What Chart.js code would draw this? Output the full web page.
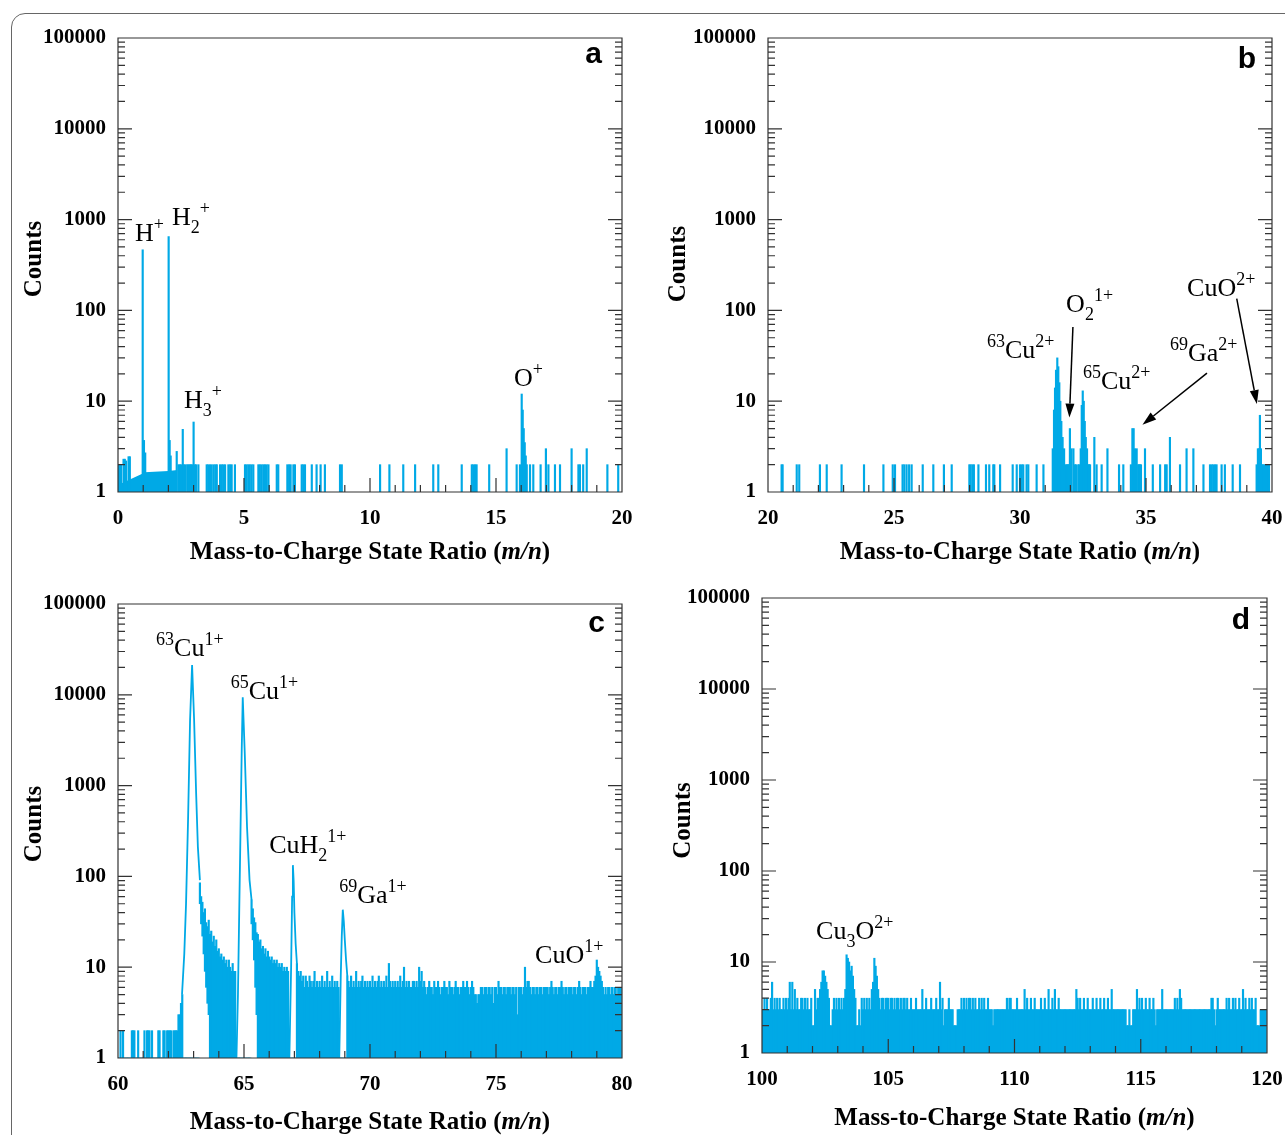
<!DOCTYPE html>
<html>
<head>
<meta charset="utf-8">
<script src="https://cdn.jsdelivr.net/npm/chart.js@4.4.1/dist/chart.umd.min.js"></script>
<style>
  html, body { margin: 0; padding: 0; background: #fff; overflow: hidden; }
  body { width: 1285px; height: 1135px; position: relative; }
  .frame { position: absolute; left: 11px; top: 13px; width: 1300px; height: 1150px;
           border: 1.5px solid #666; border-radius: 14px; }
  canvas { position: absolute; }
</style>
</head>
<body>
<div class="frame"></div>
<canvas id="chartA" width="642" height="570" style="left:0;top:0"></canvas>
<canvas id="chartB" width="643" height="570" style="left:642px;top:0"></canvas>
<canvas id="chartC" width="642" height="565" style="left:0;top:570px"></canvas>
<canvas id="chartD" width="643" height="565" style="left:642px;top:570px"></canvas>
<script>
const BLUE = "#00a9e6";
const SERIF = '"Liberation Serif", "Times New Roman", serif';
const decades = [1, 10, 100, 1000, 10000, 100000];

// ---- panel a: m/n 0-20 ----
const aRampMz = [0.02, 0.15, 0.94, 1.05, 2.0, 2.36];
const aRampCounts = [1.2, 1.25, 1.58, 1.65, 1.7, 1.75];
// single-count-2 events
const aNoiseMz = [0.03, 0.08, 0.12, 2.40, 2.45, 2.50, 2.62, 2.68, 2.75, 2.80, 2.85, 2.90, 2.95,
  3.05, 3.10, 3.19, 3.52, 3.58, 3.65, 3.72, 3.80, 3.87, 3.92, 4.05, 4.12, 4.18, 4.25, 4.38,
  4.45, 4.51, 4.64, 5.04, 5.10, 5.17, 5.23, 5.30, 5.37, 5.57, 5.63, 5.70, 5.77, 5.83, 5.90,
  5.97, 6.30, 6.36, 6.72, 6.79, 6.85, 6.96, 7.02, 7.29, 7.35, 7.42, 7.69, 7.88, 8.04, 8.21,
  8.81, 8.88, 10.40, 10.77, 11.32, 11.79, 12.51, 12.71, 13.64, 14.04, 14.10, 14.17, 14.23,
  14.73, 15.82, 15.95, 16.22, 16.35, 16.48, 16.77, 17.08, 17.34, 17.54, 18.27, 18.33, 18.46,
  19.42, 19.85];
const aNoise3Mz = [15.42, 16.98, 18.00, 18.60];
const aPeakMz = [0.22, 0.27, 0.32, 0.42, 0.47, 0.98, 1.03, 1.08, 2.01, 2.05, 2.09, 2.33, 2.57,
  3.00, 16.02, 16.06, 16.10, 16.14, 16.18];
const aPeakCounts = [2.3, 2.3, 2.2, 2.45, 2.45, 465, 3.7, 2.7, 650, 3.7, 2.5, 2.8, 4.9,
  5.9, 12, 8, 5, 3.5, 2.5];

// ---- panel b: m/n 20-40 ----
const bNoiseMz = [20.54, 20.58, 21.14, 21.24, 22.06, 22.33, 22.92, 23.81, 24.58, 24.95, 25.04,
  25.34, 25.41, 25.50, 25.60, 25.70, 26.14, 26.56, 26.98, 27.29, 27.99, 28.04, 28.11, 28.17,
  28.35, 28.65, 28.78, 28.94, 28.98, 29.21, 29.71, 29.87, 30.00, 30.07, 30.13, 30.26, 30.33,
  30.66, 30.93, 31.80, 31.85, 31.88, 31.92, 31.95, 32.18, 32.22, 32.31, 32.35, 32.71, 32.74,
  32.78, 33.04, 33.24, 33.93, 34.10, 34.40, 34.69, 34.72, 34.76, 34.80, 35.27, 35.56, 35.76,
  35.82, 36.35, 37.28, 37.54, 37.61, 37.67, 37.74, 37.80, 38.00, 38.13, 38.44, 38.73, 39.39,
  39.60, 39.65, 39.70, 39.75, 39.80, 39.84, 39.88];
const bPeakMz = [31.30, 31.35, 31.39, 31.43, 31.48, 31.52, 31.56, 31.60, 31.64, 31.69, 31.75,
  31.98, 32.04, 32.12, 32.41, 32.45, 32.49, 32.53, 32.57, 32.61, 32.66, 32.95, 33.47, 34.46,
  34.51, 34.56, 34.63, 34.96, 35.95, 36.61, 36.88, 39.44, 39.48, 39.52, 39.56];
const bPeakCounts = [3, 8, 14, 22, 30, 24, 16, 10, 6, 4, 3,
  5, 3, 3, 3, 9, 13, 10, 6, 4, 3, 4, 3, 5,
  5, 3, 3, 3, 4, 3, 3, 3, 3, 7, 3];

// ---- panel c: m/n 60-80, counts per 0.05 bin ----
const cStart = 60, cStep = 0.05;
const cCounts = [
  1,1,2,1,2,1,1,1,1,1,1,2,2,2,1,1,2,1,1,1,
  1,2,1,2,2,2,1,2,1,1,1,1,2,2,1,1,2,2,1,2,
  2,2,2,1,2,2,2,2,3,3,4,5,1,1,1,1,1,1,1,1,
  1,1,1,1,1,85,60,52,40,44,31,28,33,23,25,19,22,17,20,15,
  16,13,14,12,13,11,12,10,12,10,9,11,9,9,1,1,1,1,1,1,
  1,1,1,1,1,1,55,44,35,31,24,23,19,20,16,17,14,16,13,15,
  13,12,13,11,12,11,12,10,11,10,11,9,10,9,10,9,1,1,1,1,
  1,1,11,9,8,9,7,8,6,8,7,6,8,7,6,7,9,6,7,6,
  7,6,8,6,7,6,9,6,7,6,8,6,7,6,7,6,1,1,1,1,
  1,1,8,7,6,8,6,7,6,9,6,7,6,7,8,6,7,6,7,6,
  7,6,8,6,7,6,7,8,6,7,6,7,6,8,6,11,7,6,7,6,
  7,6,7,6,8,6,7,10,6,7,6,7,6,6,7,7,6,7,6,10,
  7,9,6,7,6,5,6,7,6,6,5,7,6,6,7,6,5,6,6,7,
  6,6,5,7,6,6,5,6,7,6,6,5,6,6,7,6,6,7,6,5,
  6,7,6,5,5,4,5,5,6,6,5,6,6,5,6,6,5,6,4,6,
  6,5,7,6,6,5,6,6,5,6,6,6,5,6,6,5,6,3,6,6,
  6,5,6,10,6,7,7,6,5,6,6,5,6,6,5,6,6,5,6,6,
  6,6,5,6,7,6,5,6,6,5,6,6,7,6,5,6,6,5,6,6,
  6,5,6,6,5,6,7,6,5,6,6,6,5,6,6,7,6,6,7,8,
  12,10,9,8,7,6,5,6,5,6,6,5,6,5,6,6,5,6,6,6
];
// lowest count in the bins right after the two Cu peaks (nothing recorded below it)
const cFloorMz = [63.25, 63.30, 63.35, 63.40, 63.45, 63.50, 63.55, 63.60,
  65.30, 65.35, 65.40, 65.45, 65.50];
const cFloorCounts = [50, 30, 22, 14, 9, 6, 4, 3, 30, 20, 12, 6, 3];
const cu63Mz = [62.54, 62.63, 62.70, 62.78, 62.86, 62.94, 63.02, 63.10, 63.17, 63.25];
const cu63Counts = [5, 14, 50, 420, 5300, 21300, 5300, 830, 210, 91];
const cu65Mz = [64.70, 64.76, 64.81, 64.86, 64.91, 64.95, 65.03, 65.12, 65.22, 65.30];
const cu65Counts = [1, 5, 40, 300, 2500, 9400, 2270, 352, 91, 55];
const cuh2Mz = [66.80, 66.87, 66.91, 66.94, 66.97, 67.00, 67.05, 67.10];
const cuh2Counts = [1, 10, 60, 133, 90, 40, 18, 11];
const ga69Mz = [68.78, 68.84, 68.88, 68.92, 68.96, 69.00, 69.05, 69.10];
const ga69Counts = [1, 8, 22, 43, 32, 20, 12, 8];

// ---- panel d: m/n 100-120, counts per 0.05 bin ----
const dStart = 100, dStep = 0.05;
const dCounts = [
  3,3,4,3,4,3,3,4,6,3,4,3,4,3,4,3,3,4,3,4,
  3,4,6,3,6,3,5,3,4,3,3,4,4,3,4,3,4,3,3,4,
  2,2,5,3,4,4,5,6,8,8,7,6,5,4,2,2,3,4,3,4,
  3,4,3,4,3,4,5,12,11,10,8,9,7,5,4,2,2,3,2,4,
  3,4,3,4,3,4,3,5,6,11,9,7,5,4,3,4,4,3,4,4,
  4,3,4,4,3,4,3,4,4,3,4,3,4,4,3,4,3,3,4,3,
  3,3,4,3,3,3,3,5,3,3,4,3,3,3,4,3,3,3,4,3,
  3,6,3,4,2,3,3,3,4,3,3,3,2,2,2,3,3,3,4,3,
  4,3,4,3,4,4,3,4,3,4,3,3,4,3,4,3,4,3,3,4,
  3,3,3,2,3,3,3,3,3,3,3,3,3,3,4,3,4,4,3,3,
  3,3,4,3,3,3,3,3,5,3,4,3,3,4,3,3,4,3,3,3,
  3,4,3,3,4,3,3,5,3,3,4,3,5,3,3,4,3,3,3,3,
  3,3,3,3,3,3,3,3,3,5,4,3,4,3,3,4,3,3,4,3,
  3,3,4,3,3,4,3,3,4,3,3,4,3,3,4,3,3,5,3,3,
  3,3,3,3,3,3,3,3,3,2,2,3,2,2,3,3,3,5,3,4,
  3,4,3,3,4,3,3,4,3,3,4,3,2,3,3,3,3,5,3,3,
  3,3,3,3,3,3,3,4,3,4,3,5,4,3,3,3,3,3,3,3,
  3,3,3,3,3,3,3,3,3,3,3,3,3,3,3,3,4,4,3,2,
  3,4,3,3,3,3,3,3,4,3,4,3,3,4,3,4,3,3,4,3,
  3,5,3,4,3,3,4,3,4,3,3,4,2,2,2,3,3,3,3,3
];

// helpers that turn the lists above into {x, y} points
const xyPairs = (xs, ys) => xs.map((x, i) => ({ x, y: ys[i] }));
const atCount = (xs, count) => xs.map(x => ({ x, y: count }));
const byX = (a, b) => a.x - b.x;
function binned(start, step, counts, floorMz = [], floorCounts = []) {
  return counts.map((c, i) => {
    const x = +(start + i * step).toFixed(2);
    const f = floorMz.indexOf(x);
    return { x, y: f >= 0 ? [floorCounts[f], c] : c };
  });
}

function spikeSet(points, thickness) {
  return { type: "bar", data: points.sort(byX), backgroundColor: BLUE, barThickness: thickness || 1.5,
           borderWidth: 0, grouped: false, order: 2 };
}
function peakLine(points) {
  return { type: "line", data: points, borderColor: BLUE, borderWidth: 1.8, pointRadius: 0,
           fill: false, tension: 0, order: 0 };
}

// frame, inward ticks, titles, ion labels and arrows
const decor = {
  id: "decor",
  afterDraw(chart, _args, o) {
    const { ctx, chartArea: ca } = chart;
    const sx = chart.scales.x, sy = chart.scales.y;
    const px = v => sx.getPixelForValue(v);
    const py = v => sy.getPixelForValue(v);
    ctx.save();

    ctx.strokeStyle = "#333";
    ctx.lineWidth = 1.2;
    ctx.beginPath();
    ctx.rect(ca.left, ca.top, ca.width, ca.height);
    decades.forEach(d => {
      const yy = py(d);
      ctx.moveTo(ca.left, yy); ctx.lineTo(ca.left + 14, yy);
      ctx.moveTo(ca.right, yy); ctx.lineTo(ca.right - 14, yy);
      if (d < 100000) {
        for (let m = 2; m < 10; m++) {
          const ym = py(d * m);
          ctx.moveTo(ca.left, ym); ctx.lineTo(ca.left + 7, ym);
          ctx.moveTo(ca.right, ym); ctx.lineTo(ca.right - 7, ym);
        }
      }
    });
    for (let v = sx.min; v <= sx.max; v++) {
      const xx = px(v);
      ctx.moveTo(xx, ca.bottom); ctx.lineTo(xx, ca.bottom - (v % 5 === 0 ? 14 : 7));
    }
    ctx.stroke();

    ctx.fillStyle = "#000";
    // x axis title, m/n in italics
    const parts = [["bold", "Mass-to-Charge State Ratio ("], ["italic bold", "m/n"], ["bold", ")"]];
    let total = 0;
    parts.forEach(p => { ctx.font = `${p[0]} 25px ${SERIF}`; total += ctx.measureText(p[1]).width; });
    let tx = (ca.left + ca.right) / 2 - total / 2;
    ctx.textBaseline = "middle";
    ctx.textAlign = "left";
    parts.forEach(p => {
      ctx.font = `${p[0]} 25px ${SERIF}`;
      ctx.fillText(p[1], tx, ca.bottom + o.xTitleDy);
      tx += ctx.measureText(p[1]).width;
    });

    // y axis title
    ctx.save();
    ctx.translate(ca.left + o.yTitleDx, (ca.top + ca.bottom) / 2 + o.yTitleDy);
    ctx.rotate(-Math.PI / 2);
    ctx.textAlign = "center";
    ctx.font = `bold 25px ${SERIF}`;
    ctx.fillText("Counts", 0, 0);
    ctx.restore();

    // panel letter
    ctx.textBaseline = "alphabetic";
    ctx.textAlign = "right";
    ctx.font = 'bold 30px "Liberation Sans", Arial, sans-serif';
    ctx.fillText(o.letter, ca.right - o.letterDx, ca.top + o.letterDy);

    // ion labels
    ctx.textAlign = "left";
    (o.labels || []).forEach(lb => {
      let cx = px(lb.mz);
      const base = py(lb.count);
      lb.parts.forEach(([kind, text]) => {
        let size = 26, dy = 0;
        if (kind === "sup") { size = 18; dy = -11; }
        if (kind === "sub") { size = 18; dy = 8; }
        ctx.font = `${size}px ${SERIF}`;
        ctx.fillText(text, cx, base + dy);
        cx += ctx.measureText(text).width;
      });
    });

    // arrows pointing at small peaks
    ctx.strokeStyle = "#000";
    ctx.lineWidth = 1.5;
    (o.arrows || []).forEach(ar => {
      const x0 = px(ar.from[0]), y0 = py(ar.from[1]);
      const x1 = px(ar.to[0]), y1 = py(ar.to[1]);
      const ang = Math.atan2(y1 - y0, x1 - x0);
      const hl = 14, hw = 4.5;
      const bx = x1 - hl * Math.cos(ang), by = y1 - hl * Math.sin(ang);
      ctx.beginPath();
      ctx.moveTo(x0, y0); ctx.lineTo(bx, by);
      ctx.stroke();
      ctx.beginPath();
      ctx.moveTo(x1, y1);
      ctx.lineTo(bx + hw * Math.sin(ang), by - hw * Math.cos(ang));
      ctx.lineTo(bx - hw * Math.sin(ang), by + hw * Math.cos(ang));
      ctx.closePath();
      ctx.fill();
    });
    ctx.restore();
  }
};

function makeChart(id, cfg) {
  const tickFont = { family: SERIF, size: 21, weight: "bold" };
  return new Chart(document.getElementById(id), {
    type: "bar",
    data: { datasets: cfg.datasets },
    options: {
      responsive: false,
      animation: false,
      devicePixelRatio: 1,
      layout: { padding: cfg.padding },
      plugins: { legend: { display: false }, tooltip: { enabled: false }, decor: cfg.decor },
      scales: {
        x: {
          type: "linear", min: cfg.xMin, max: cfg.xMax, offset: false,
          afterFit: s => { s.height = cfg.xAxisHeight; s.paddingLeft = 0; s.paddingRight = 0; },
          grid: { display: false, drawTicks: false }, border: { display: false },
          ticks: { stepSize: 5, padding: 14, font: tickFont, color: "#000", maxRotation: 0, autoSkip: false },
        },
        y: {
          type: "logarithmic", min: 1, max: 100000,
          afterFit: s => { s.width = cfg.yAxisWidth; s.paddingTop = 0; s.paddingBottom = 0; },
          afterBuildTicks: s => { s.ticks = decades.map(v => ({ value: v })); },
          grid: { display: false, drawTicks: false }, border: { display: false },
          ticks: { padding: 12, font: tickFont, color: "#000", callback: v => String(v) },
        },
      },
    },
    plugins: [decor],
  });
}

const sup = t => ["sup", t], sub = t => ["sub", t], txt = t => ["n", t];

makeChart("chartA", {
  xMin: 0, xMax: 20, yAxisWidth: 118, xAxisHeight: 78,
  padding: { top: 38, right: 20, bottom: 0, left: 0 },
  datasets: [
    { type: "line", data: xyPairs(aRampMz, aRampCounts), borderWidth: 0, pointRadius: 0,
      fill: "start", backgroundColor: BLUE, order: 3 },
    spikeSet([...atCount(aNoiseMz, 2), ...atCount(aNoise3Mz, 3), ...xyPairs(aPeakMz, aPeakCounts)]),
  ],
  decor: {
    letter: "a", letterDx: 20, letterDy: 25, xTitleDy: 61, yTitleDx: -83, yTitleDy: -6,
    labels: [
      { mz: 0.67, count: 581, parts: [txt("H"), sup("+")] },
      { mz: 2.14, count: 870, parts: [txt("H"), sub("2"), sup("+")] },
      { mz: 2.62, count: 8.4, parts: [txt("H"), sub("3"), sup("+")] },
      { mz: 15.71, count: 14.7, parts: [txt("O"), sup("+")] },
    ],
  },
});

makeChart("chartB", {
  xMin: 20, xMax: 40, yAxisWidth: 126, xAxisHeight: 78,
  padding: { top: 38, right: 13, bottom: 0, left: 0 },
  datasets: [spikeSet([...atCount(bNoiseMz, 2), ...xyPairs(bPeakMz, bPeakCounts)])],
  decor: {
    letter: "b", letterDx: 16, letterDy: 30, xTitleDy: 61, yTitleDx: -89, yTitleDy: -1,
    labels: [
      { mz: 28.69, count: 30, parts: [sup("63"), txt("Cu"), sup("2+")] },
      { mz: 31.83, count: 96, parts: [txt("O"), sub("2"), sup("1+")] },
      { mz: 32.50, count: 13.6, parts: [sup("65"), txt("Cu"), sup("2+")] },
      { mz: 35.95, count: 27.7, parts: [sup("69"), txt("Ga"), sup("2+")] },
      { mz: 36.63, count: 144, parts: [txt("CuO"), sup("2+")] },
    ],
    arrows: [
      { from: [32.10, 65.7], to: [31.96, 6.6] },
      { from: [37.42, 20.4], to: [34.86, 5.5] },
      { from: [38.60, 135], to: [39.40, 9.3] },
    ],
  },
});

makeChart("chartC", {
  xMin: 60, xMax: 80, yAxisWidth: 118, xAxisHeight: 77,
  padding: { top: 34, right: 20, bottom: 0, left: 0 },
  datasets: [
    spikeSet(binned(cStart, cStep, cCounts, cFloorMz, cFloorCounts)),
    peakLine(xyPairs(cu63Mz, cu63Counts)),
    peakLine(xyPairs(cu65Mz, cu65Counts)),
    peakLine(xyPairs(cuh2Mz, cuh2Counts)),
    peakLine(xyPairs(ga69Mz, ga69Counts)),
  ],
  decor: {
    letter: "c", letterDx: 17, letterDy: 28, xTitleDy: 65, yTitleDx: -83, yTitleDy: -7,
    labels: [
      { mz: 61.51, count: 26700, parts: [sup("63"), txt("Cu"), sup("1+")] },
      { mz: 64.47, count: 9000, parts: [sup("65"), txt("Cu"), sup("1+")] },
      { mz: 66.00, count: 180, parts: [txt("CuH"), sub("2"), sup("1+")] },
      { mz: 68.78, count: 50.6, parts: [sup("69"), txt("Ga"), sup("1+")] },
      { mz: 76.55, count: 11.0, parts: [txt("CuO"), sup("1+")] },
    ],
  },
});

makeChart("chartD", {
  xMin: 100, xMax: 120, yAxisWidth: 120, xAxisHeight: 82,
  padding: { top: 28, right: 18, bottom: 0, left: 0 },
  datasets: [spikeSet(binned(dStart, dStep, dCounts))],
  decor: {
    letter: "d", letterDx: 17, letterDy: 31, xTitleDy: 66, yTitleDx: -78, yTitleDy: -5,
    labels: [
      { mz: 102.14, count: 17.9, parts: [txt("Cu"), sub("3"), txt("O"), sup("2+")] },
    ],
  },
});
</script>
</body>
</html>
